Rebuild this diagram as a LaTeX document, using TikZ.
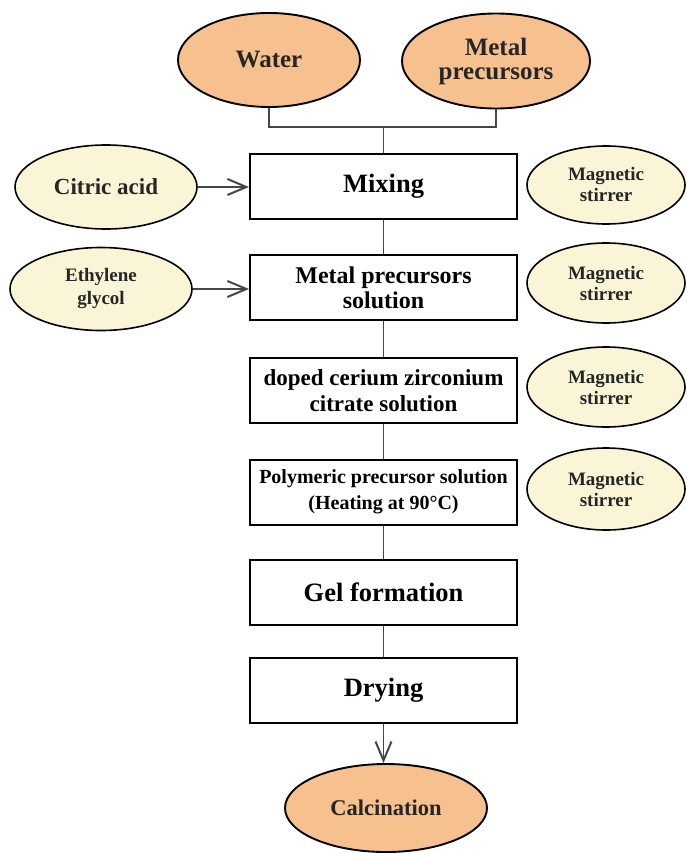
\documentclass[tikz,border=0pt]{standalone}
\usepackage{fontspec}
\setmainfont{Liberation Serif}
\usetikzlibrary{shapes.geometric,arrows.meta}
\definecolor{orangefill}{RGB}{246,193,142}
\definecolor{creamfill}{RGB}{250,245,215}
\definecolor{linegray}{RGB}{70,70,70}
\tikzset{
  stepbox/.style={draw=black, line width=2pt, fill=white, minimum width=267pt, minimum height=65pt, inner sep=2pt, align=center, font=\bfseries\fontsize{26.5}{28}\selectfont},
  orangeell/.style={ellipse, draw=black, line width=1.9pt, fill=orangefill, inner sep=0pt, align=center, font=\bfseries\fontsize{25}{24}\selectfont, text=black!85},
  creamell/.style={ellipse, draw=black, line width=1.6pt, fill=creamfill, inner sep=0pt, align=center, text=black!85},
  magstyle/.style={creamell, minimum width=158pt, font=\bfseries\fontsize{19}{21}\selectfont},
  conn/.style={draw=linegray, line width=1.8pt},
  arr/.style={conn, -{Straight Barb[length=19pt, width=16pt, line width=2pt]}}
}
\begin{document}
\begin{tikzpicture}[x=1pt, y=-1pt]
\useasboundingbox (0,0) rectangle (686,853);
% top ellipses
\node[orangeell, minimum width=182pt, minimum height=94pt] (water) at (269,60) {Water};
\node[orangeell, minimum width=188pt, minimum height=95pt] (metal) at (496,61) {Metal\\precursors};
% boxes
\node[stepbox] (mix) at (383.5,186.5) {Mixing};
\node[stepbox, font=\bfseries\fontsize{24}{25}\selectfont] (mps) at (383.5,287.5) {Metal precursors\\solution};
\node[stepbox, font=\bfseries\fontsize{23}{26}\selectfont] (dcz) at (383.5,390.5) {doped cerium zirconium\\citrate solution};
\node[stepbox, font=\bfseries\fontsize{20}{26}\selectfont] (poly) at (383.5,492) {Polymeric precursor solution\\(Heating at 90°C)};
\node[stepbox] (gel) at (383.5,592.5) {Gel formation};
\node[stepbox] (dry) at (383.5,690.5) {Drying};
% left ellipses
\node[creamell, minimum width=182pt, minimum height=84pt, font=\bfseries\fontsize{23}{24}\selectfont] (citric) at (106,187) {Citric acid};
\node[creamell, minimum width=182pt, minimum height=83pt, font=\bfseries\fontsize{19}{23}\selectfont] (eg) at (101,289) {Ethylene\\glycol};
% right ellipses
\node[magstyle, minimum height=78pt] (ms1) at (606,185) {Magnetic\\stirrer};
\node[magstyle, minimum height=80pt] (ms2) at (606,283) {Magnetic\\stirrer};
\node[magstyle, minimum height=80pt] (ms3) at (606,387) {Magnetic\\stirrer};
\node[magstyle, minimum height=82pt] (ms4) at (606,489) {Magnetic\\stirrer};
% bottom ellipse
\node[orangeell, minimum width=202pt, minimum height=88pt, font=\bfseries\fontsize{22.5}{24}\selectfont] (calc) at (386,808) {Calcination};
% connectors
\coordinate (join) at (383.5,127);
\draw[conn] (water.south) |- (join) -| (metal.south);
\draw[conn] (join) -- (mix.north);
\draw[conn] (mix) -- (mps);
\draw[conn] (mps) -- (dcz);
\draw[conn] (dcz) -- (poly);
\draw[conn] (poly) -- (gel);
\draw[conn] (gel) -- (dry);
\draw[arr] (dry.south) -- (dry.south |- calc.north);
\draw[arr] (citric.east) -- (citric.east -| mix.west);
\draw[arr] (eg.east) -- (eg.east -| mps.west);
\end{tikzpicture}
\end{document}
